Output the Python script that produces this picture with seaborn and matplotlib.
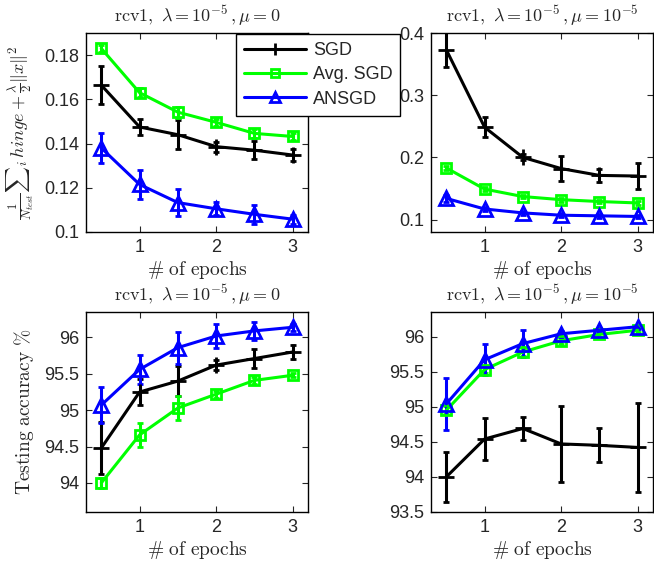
import matplotlib
matplotlib.use("Agg")
import matplotlib.pyplot as plt
import seaborn as sns
import pandas as pd
from matplotlib.ticker import FormatStrFormatter

sns.set_style("ticks")
plt.rcParams['font.family'] = ['Liberation Sans', 'DejaVu Sans']
plt.rcParams['mathtext.fontset'] = 'cm'

epochs = [0.5, 1, 1.5, 2, 2.5, 3]
methods = ["SGD", "Avg. SGD", "ANSGD"]

# top-left: objective, mu = 0
obj_mu0_sgd = [0.1664, 0.1475, 0.1440, 0.1386, 0.1370, 0.1348]
obj_mu0_sgd_err = [0.0085, 0.0038, 0.0065, 0.0022, 0.0040, 0.0027]
obj_mu0_avg = [0.1830, 0.1630, 0.1542, 0.1496, 0.1446, 0.1432]
obj_mu0_avg_err = [0.0015, 0.0020, 0.0025, 0.0015, 0.0020, 0.0015]
obj_mu0_ans = [0.1380, 0.1215, 0.1133, 0.1105, 0.1080, 0.1058]
obj_mu0_ans_err = [0.0067, 0.0065, 0.0062, 0.0030, 0.0043, 0.0020]

# top-right: objective, mu = 1e-5
obj_mu5_sgd = [0.373, 0.2485, 0.200, 0.182, 0.171, 0.170]
obj_mu5_sgd_err = [0.028, 0.016, 0.005, 0.020, 0.011, 0.021]
obj_mu5_avg = [0.183, 0.149, 0.137, 0.132, 0.129, 0.1267]
obj_mu5_avg_err = [0.003, 0.003, 0.003, 0.003, 0.003, 0.003]
obj_mu5_ans = [0.134, 0.117, 0.1107, 0.107, 0.106, 0.105]
obj_mu5_ans_err = [0.005, 0.004, 0.003, 0.003, 0.003, 0.003]

# bottom-left: accuracy, mu = 0
acc_mu0_sgd = [94.48, 95.25, 95.40, 95.62, 95.71, 95.80]
acc_mu0_sgd_err = [0.36, 0.18, 0.21, 0.07, 0.13, 0.09]
acc_mu0_avg = [94.00, 94.66, 95.03, 95.22, 95.41, 95.48]
acc_mu0_avg_err = [0.07, 0.16, 0.17, 0.05, 0.05, 0.03]
acc_mu0_ans = [95.07, 95.56, 95.86, 96.02, 96.09, 96.14]
acc_mu0_ans_err = [0.25, 0.20, 0.22, 0.16, 0.12, 0.05]

# bottom-right: accuracy, mu = 1e-5
acc_mu5_sgd = [94.00, 94.54, 94.69, 94.47, 94.45, 94.42]
acc_mu5_sgd_err = [0.36, 0.30, 0.16, 0.54, 0.24, 0.63]
acc_mu5_avg = [94.95, 95.53, 95.78, 95.94, 96.03, 96.09]
acc_mu5_avg_err = [0.06, 0.05, 0.05, 0.04, 0.03, 0.03]
acc_mu5_ans = [95.04, 95.67, 95.90, 96.04, 96.09, 96.14]
acc_mu5_ans_err = [0.37, 0.22, 0.19, 0.04, 0.03, 0.03]

colors = {"SGD": "#000000", "Avg. SGD": "#00ff00", "ANSGD": "#0000ff"}
markers = {"SGD": "+", "Avg. SGD": "s", "ANSGD": "^"}
msizes = {"SGD": 12, "Avg. SGD": 7, "ANSGD": 10}

title_mu0 = r"$\mathrm{rcv1},\ \lambda = 10^{-5}\,,\mu = 0$"
title_mu5 = r"$\mathrm{rcv1},\ \lambda = 10^{-5}\,,\mu = 10^{-5}$"
xlab = r"$\#\ \mathrm{of\ epochs}$"

W, H = 654, 565
fig = plt.figure(figsize=(W / 100, H / 100), dpi=100)

def pos(l, r, t, b):
    return [l / W, 1 - b / H, (r - l) / W, (b - t) / H]

ax_tl = fig.add_axes(pos(86, 308, 33, 232))
ax_tr = fig.add_axes(pos(431, 653, 33, 232))
ax_bl = fig.add_axes(pos(86, 308, 312, 512))
ax_br = fig.add_axes(pos(431, 653, 312, 512))

panels = [
    (ax_tl, [obj_mu0_sgd, obj_mu0_avg, obj_mu0_ans], [obj_mu0_sgd_err, obj_mu0_avg_err, obj_mu0_ans_err],
     title_mu0, (0.1, 0.19), [0.1, 0.12, 0.14, 0.16, 0.18]),
    (ax_tr, [obj_mu5_sgd, obj_mu5_avg, obj_mu5_ans], [obj_mu5_sgd_err, obj_mu5_avg_err, obj_mu5_ans_err],
     title_mu5, (0.08, 0.4), [0.1, 0.2, 0.3, 0.4]),
    (ax_bl, [acc_mu0_sgd, acc_mu0_avg, acc_mu0_ans], [acc_mu0_sgd_err, acc_mu0_avg_err, acc_mu0_ans_err],
     title_mu0, (93.6, 96.35), [94, 94.5, 95, 95.5, 96]),
    (ax_br, [acc_mu5_sgd, acc_mu5_avg, acc_mu5_ans], [acc_mu5_sgd_err, acc_mu5_avg_err, acc_mu5_ans_err],
     title_mu5, (93.5, 96.35), [93.5, 94, 94.5, 95, 95.5, 96]),
]

for ax, vals, errs, title, ylim, yticks in panels:
    rows = []
    for m, v in zip(methods, vals):
        for e, y in zip(epochs, v):
            rows.append({"epoch": e, "value": y, "method": m})
    df = pd.DataFrame(rows)
    for m, v, er in zip(methods, vals, errs):
        ax.errorbar(epochs, v, yerr=er, fmt="none", ecolor=colors[m], elinewidth=2.2,
                    capsize=2, capthick=2, zorder=2)
    for m in methods:
        sns.lineplot(data=df[df["method"] == m], x="epoch", y="value", ax=ax,
                     color=colors[m], marker=markers[m], markersize=msizes[m],
                     markerfacecolor="none", markeredgecolor=colors[m], markeredgewidth=2,
                     linewidth=2.2, label=m, legend=False, zorder=3)
    ax.set_xlim(0.3, 3.2)
    ax.set_ylim(*ylim)
    ax.set_xticks([1, 2, 3])
    ax.set_yticks(yticks)
    ax.yaxis.set_major_formatter(FormatStrFormatter('%g'))
    ax.tick_params(direction="in", top=True, right=True, length=4, width=0.8, labelsize=13, pad=5)
    for s in ax.spines.values():
        s.set_linewidth(1.0)
        s.set_color("black")
    ax.set_title(title, fontsize=13, pad=8)
    ax.set_xlabel(xlab, fontsize=14, labelpad=2)
    ax.set_ylabel("")

ax_tl.set_ylabel(r"$\frac{1}{N_{test}}{\sum}_i\, hinge + \frac{\lambda}{2}\|x\|^2$", fontsize=13, labelpad=6)
ax_bl.set_ylabel(r"$\mathrm{Testing\ accuracy\ \%}$", fontsize=14, labelpad=6)

handles, labels = ax_tl.get_legend_handles_labels()
leg = fig.legend(handles, labels, loc="upper left", bbox_to_anchor=(236 / W, 1 - 34 / H),
                 frameon=True, fancybox=False, framealpha=1, edgecolor="black",
                 fontsize=13, handlelength=3.4, borderaxespad=0, borderpad=0.45,
                 labelspacing=0.4, handletextpad=0.4, markerscale=0.75)
leg.get_frame().set_linewidth(1.0)
leg.set_zorder(10)

fig.savefig("out.png", dpi=100)
